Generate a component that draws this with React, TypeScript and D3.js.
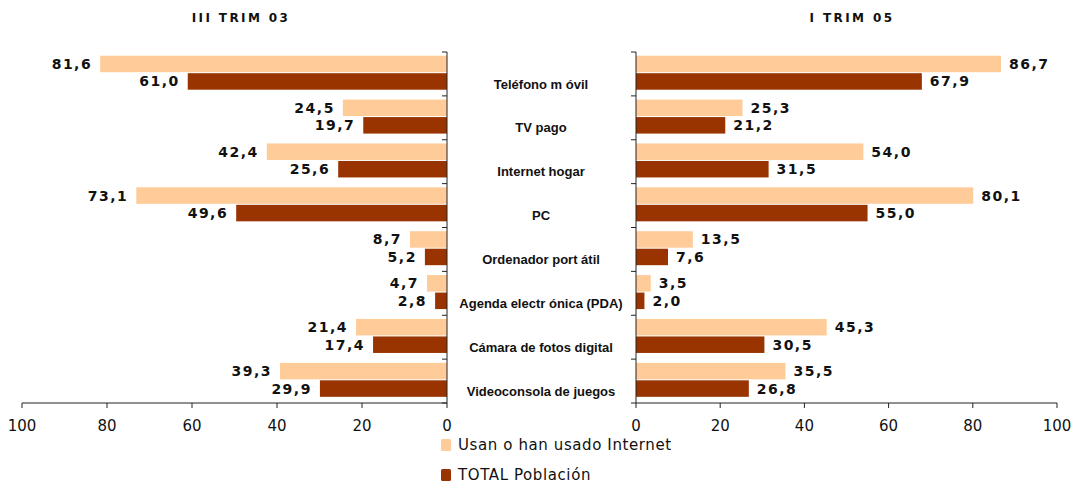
import React from "react";
import * as d3 from "d3";

const categories = [
  "Teléfono m óvil",
  "TV pago",
  "Internet hogar",
  "PC",
  "Ordenador port átil",
  "Agenda electr ónica (PDA)",
  "Cámara de fotos digital",
  "Videoconsola de juegos",
];
const internet03 = [81.6, 24.5, 42.4, 73.1, 8.7, 4.7, 21.4, 39.3];
const total03 = [61.0, 19.7, 25.6, 49.6, 5.2, 2.8, 17.4, 29.9];
const internet05 = [86.7, 25.3, 54.0, 80.1, 13.5, 3.5, 45.3, 35.5];
const total05 = [67.9, 21.2, 31.5, 55.0, 7.6, 2.0, 30.5, 26.8];
const ticks = [0, 20, 40, 60, 80, 100];
const titles = ["III TRIM 03", "I TRIM 05"];
const legendLabels = ["Usan o han usado Internet", "TOTAL Población"];

const LIGHT = "#FFCC99";
const DARK = "#993300";
const fmt = (v: number) => v.toFixed(1).replace(".", ",");

export default function App() {
  const W = 1080, H = 484;
  const top = 52, bottom = 403;
  const y = d3.scaleBand<number>().domain(d3.range(categories.length)).range([top, bottom]);
  const xL = d3.scaleLinear().domain([0, 100]).range([447, 22]);
  const xR = d3.scaleLinear().domain([0, 100]).range([636, 1057]);
  const bh = 16.5;
  const numFont = "'DejaVu Sans', Verdana, sans-serif";

  const panel = (x: d3.ScaleLinear<number, number>, a: number[], b: number[], left: boolean) => {
    const x0 = x(0);
    return (
      <g>
        {categories.map((_, i) => {
          const b0 = (y(i) as number) + 3.7;
          const rows = [
            { v: a[i], c: LIGHT, yy: b0 },
            { v: b[i], c: DARK, yy: b0 + bh + 1 },
          ];
          return rows.map((r, j) => {
            const xe = x(r.v);
            return (
              <g key={`${i}-${j}`}>
                <rect x={Math.min(x0, xe)} y={r.yy} width={Math.abs(xe - x0)} height={bh} fill={r.c} />
                <text
                  x={left ? xe - 8 : xe + 8}
                  y={r.yy + bh / 2}
                  dy="0.36em"
                  textAnchor={left ? "end" : "start"}
                  fontFamily={numFont}
                  fontWeight="bold"
                  fontSize={14}
                  letterSpacing={1.5}
                  fill="#111"
                >
                  {fmt(r.v)}
                </text>
              </g>
            );
          });
        })}
        <line x1={x0} x2={x0} y1={top} y2={bottom} stroke="#222" strokeWidth={1} />
        {d3.range(categories.length + 1).map((i) => {
          const yy = top + i * y.step();
          return <line key={i} x1={x0 - 5} x2={x0} y1={yy} y2={yy} stroke="#222" />;
        })}
        <line x1={x(0)} x2={x(100)} y1={bottom} y2={bottom} stroke="#222" />
        {ticks.map((t) => (
          <g key={t}>
            <line x1={x(t)} x2={x(t)} y1={bottom} y2={bottom + 5} stroke="#222" />
            <text
              x={x(t)}
              y={bottom + 23}
              dy="0.36em"
              textAnchor="middle"
              fontFamily={numFont}
              fontSize={15}
              fill="#111"
            >
              {t}
            </text>
          </g>
        ))}
      </g>
    );
  };

  return (
    <svg width={W} height={H} style={{ position: "absolute", left: 0, top: 0, background: "#fff" }}>
      <text x={241} y={18} dy="0.36em" textAnchor="middle" fontFamily={numFont} fontWeight="bold" fontSize={12} letterSpacing={2.4} fill="#111">
        {titles[0]}
      </text>
      <text x={852} y={18} dy="0.36em" textAnchor="middle" fontFamily={numFont} fontWeight="bold" fontSize={12} letterSpacing={2.4} fill="#111">
        {titles[1]}
      </text>
      {panel(xL, internet03, total03, true)}
      {panel(xR, internet05, total05, false)}
      {categories.map((c, i) => (
        <text
          key={c}
          x={541}
          y={(y(i) as number) + y.bandwidth() / 2 + 10}
          dy="0.36em"
          textAnchor="middle"
          fontFamily="'Liberation Sans', Arial, sans-serif"
          fontWeight="bold"
          fontSize={13}
          fill="#111"
        >
          {c}
        </text>
      ))}
      {legendLabels.map((l, i) => (
        <g key={l}>
          <rect x={441} y={439 + i * 30} width={10} height={12} rx={1.5} fill={i === 0 ? LIGHT : DARK} />
          <text x={458} y={445 + i * 30} dy="0.36em" fontFamily={numFont} fontSize={15} letterSpacing={0.6} fill="#111">
            {l}
          </text>
        </g>
      ))}
    </svg>
  );
}
